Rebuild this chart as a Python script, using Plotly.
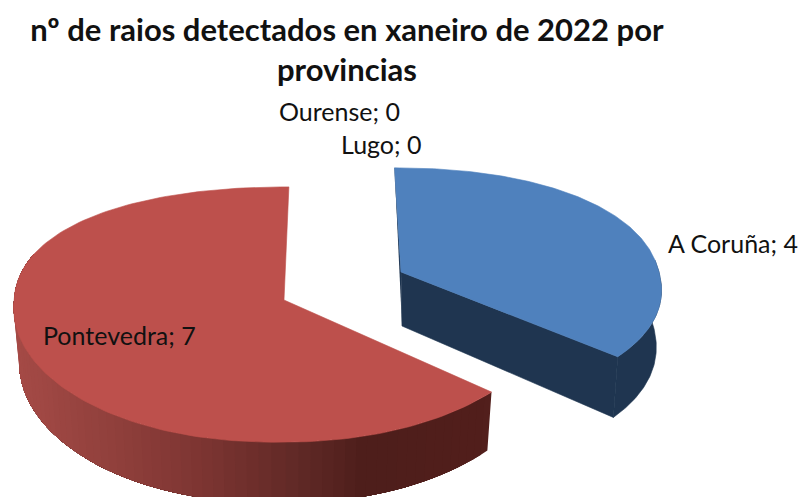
import math
import plotly.graph_objects as go

provinces = ["A Coruña", "Lugo", "Ourense", "Pontevedra"]
values = [4, 0, 0, 7]
title_text = "nº de raios detectados en xaneiro de 2022 por<br>provincias"

FACE = {"A Coruña": "#4f81bd", "Pontevedra": "#bd504c"}
WALL = {"A Coruña": "#1f3550"}
# projection of each exploded slice on the page: apex x, apex y, radii, skew, depth, x perspective
VIEW = {
    "A Coruña": dict(cx=401, cy=272, rx=258, ry=116, s=7, d=56, kx=0.09),
    "Pontevedra": dict(cx=284, cy=300, rx=270, ry=126, s=-5, d=54, kx=0.02),
}
K = 0.114
ROUND = 0.93
LABEL_POS = {"A Coruña": (666, 243), "Lugo": (339, 144), "Ourense": (277, 111), "Pontevedra": (41, 335)}
RED_RAMP = [(13, (166, 75, 71)), (100, (148, 66, 62)), (200, (127, 54, 51)),
            (300, (98, 42, 39)), (370, (78, 30, 27)), (490, (82, 31, 28))]


def project(view, deg, lower=False):
    t = math.radians(deg)
    u = math.copysign(abs(math.sin(t)) ** ROUND, math.sin(t))
    v = -math.copysign(abs(math.cos(t)) ** ROUND, math.cos(t))
    w = 1 - K * v
    x = (view["rx"] * u + view["s"] * v) / (1 - view["kx"] * v)
    y = view["ry"] * v / w
    if lower:
        return view["cx"] + 0.98 * x, view["cy"] + y + view["d"] / w
    return view["cx"] + x, view["cy"] + y


def arc(view, a, b, lower=False, n=80):
    pts = [project(view, a + (b - a) * i / n, lower) for i in range(n + 1)]
    return [p[0] for p in pts], [p[1] for p in pts]


def ramp(x):
    for (x0, c0), (x1, c1) in zip(RED_RAMP, RED_RAMP[1:]):
        if x <= x1:
            f = max(0, (x - x0) / (x1 - x0))
            return "rgb(%d,%d,%d)" % tuple(c0[i] + (c1[i] - c0[i]) * f for i in range(3))
    return "rgb(%d,%d,%d)" % RED_RAMP[-1][1]


fig = go.Figure()


def poly(xs, ys, color, width=0.6):
    fig.add_trace(go.Scatter(x=xs, y=ys, mode="lines", fill="toself", fillcolor=color,
                             line=dict(color=color, width=width), hoverinfo="skip", showlegend=False))


total = sum(values)
start = 0.0
for name, val in zip(provinces, values):
    sweep = 360.0 * val / total
    if val == 0:
        start += sweep
        continue
    end = start + sweep
    view = VIEW[name]
    ax, ay = view["cx"], view["cy"]
    lowx, lowy = ax + 1, ay + view["d"] - 2
    if name == "A Coruña":
        wall = WALL[name]
        tx, ty = project(view, start)
        poly([tx, ax, lowx], [ty, ay, lowy], wall)
        ex, ey = project(view, end)
        bx, by = project(view, end, True)
        poly([ax, ex, bx, lowx], [ay, ey, by, lowy], wall)
        ux, uy = arc(view, 85, end)
        lx, ly = arc(view, 85, end, True)
        poly(ux + lx[::-1], uy + ly[::-1], wall)
    else:
        # painter's order: every strip runs on to the far end, so no seams show
        n = 70
        a0, a1 = start, start + 160
        for i in range(n):
            a = a0 + (a1 - a0) * i / n
            ux, uy = arc(view, a, a1, n=max(2, n - i))
            lx, ly = arc(view, a, a1, True, n=max(2, n - i))
            poly(ux + lx[::-1], uy + ly[::-1], ramp(ux[0]), width=0)
    fx, fy = arc(view, start, end, n=160)
    poly([ax] + fx + [ax], [ay] + fy + [ay], FACE[name])
    start = end

for name, val in zip(provinces, values):
    lx, ly = LABEL_POS[name]
    fig.add_annotation(x=lx, y=ly, text=f"{name}; {val}", showarrow=False, xanchor="left", yanchor="middle",
                       font=dict(family="Lato", size=25, color="#111111"))

fig.update_layout(
    width=803, height=497, margin=dict(l=0, r=0, t=0, b=0),
    paper_bgcolor="white", plot_bgcolor="white", showlegend=False,
    title=dict(text=f"<b>{title_text}</b>", x=0.432, xanchor="center", y=0.918, yanchor="top",
               pad=dict(t=0), font=dict(family="Lato", size=31, color="#111111")),
    xaxis=dict(range=[0, 803], visible=False, fixedrange=True),
    yaxis=dict(range=[497, 0], visible=False, fixedrange=True),
)
fig.write_html("out.html", post_script="document.body.style.margin='0';document.documentElement.style.overflow='hidden';",
               config={"displayModeBar": False})
